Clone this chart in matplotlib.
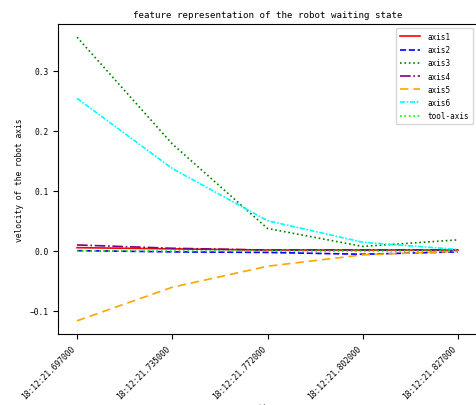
import matplotlib
matplotlib.use("Agg")
import matplotlib.pyplot as plt

times = ["18:12:21.697000", "18:12:21.735000", "18:12:21.772000",
         "18:12:21.802000", "18:12:21.827000"]
axis1 = [0.005, 0.003, 0.001, 0.001, 0.001]
axis2 = [0.000, -0.002, -0.003, -0.006, -0.002]
axis3 = [0.356, 0.178, 0.037, 0.007, 0.018]
axis4 = [0.0095, 0.004, 0.001, 0.001, 0.001]
axis5 = [-0.117, -0.061, -0.026, -0.007, -0.001]
axis6 = [0.254, 0.137, 0.050, 0.014, 0.002]
tool_axis = [0.0, 0.0, 0.0, 0.0, 0.0]

plt.rcParams['font.family'] = ['DejaVu Sans Mono']
fs = 5.7
lw = 1.2

fig = plt.figure(figsize=(4.76, 4.06), dpi=100)
ax = fig.add_axes([58/476, 1-335/406, (477-58)/476, (335-25)/406])
x = list(range(len(times)))
ax.plot(x, axis1, color='red', linestyle='-', lw=lw, label='axis1')
ax.plot(x, axis2, color='blue', linestyle='--', lw=lw, label='axis2')
ax.plot(x, axis3, color='green', linestyle=':', lw=lw, label='axis3')
ax.plot(x, axis4, color='purple', linestyle='-.', lw=lw, label='axis4')
ax.plot(x, axis5, color='orange', linestyle=(0, (5, 3)), lw=lw, label='axis5')
ax.plot(x, axis6, color='cyan', linestyle=(0, (3, 1, 1, 1)), lw=lw, label='axis6')
ax.plot(x, tool_axis, color='lime', linestyle=':', lw=lw, label='tool-axis')

ax.set_xticks(x)
ax.set_xticklabels(times, rotation=45, ha='right', fontsize=fs)
ax.tick_params(axis='y', labelsize=fs)
ax.tick_params(length=3.5, width=0.8)
ax.set_xlim(-0.2, 4.2)
ax.set_ylim(-0.139, 0.378)
ax.set_title('feature representation of the robot waiting state', fontsize=6.6, pad=5)
ax.set_xlabel('time', fontsize=fs, labelpad=2)
ax.set_ylabel('velocity of the robot axis', fontsize=fs)
ax.legend(loc='upper right', fontsize=5.5, handlelength=2.6, handletextpad=1.0,
          borderpad=0.55, labelspacing=0.55)
fig.savefig('out.png', dpi=100)
